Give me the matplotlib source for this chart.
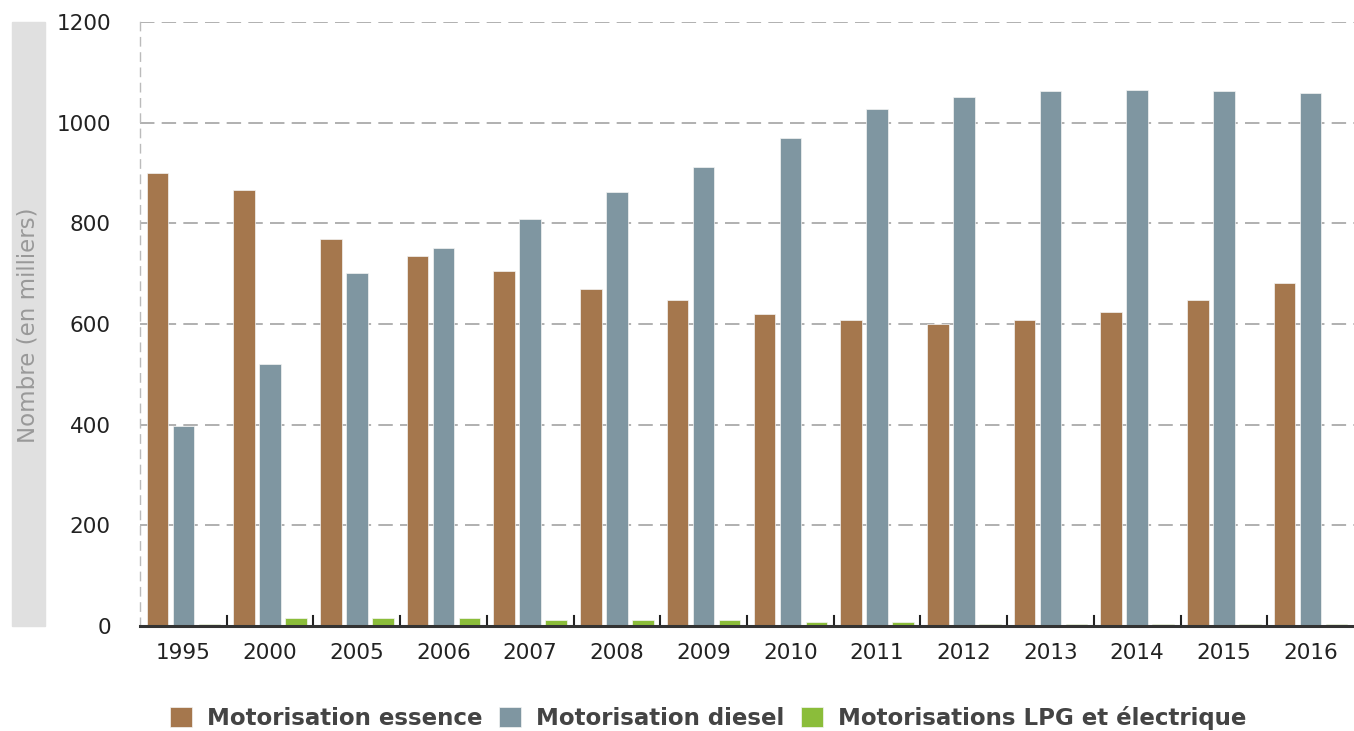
import numpy as np
import matplotlib.pyplot as plt
from matplotlib.patches import Rectangle

plt.rcParams['font.family'] = ['DejaVu Sans']

## Data

years = ['1995', '2000', '2005', '2006', '2007', '2008', '2009',
         '2010', '2011', '2012', '2013', '2014', '2015', '2016']
essence = [900, 866, 769, 735, 705, 670, 648, 620, 608, 600, 608, 624, 648, 682]
diesel = [398, 520, 701, 751, 809, 862, 912, 970, 1027, 1051, 1062, 1065, 1062, 1058]
lpg_elec = [4, 16, 16, 16, 12, 12, 12, 8, 8, 4, 4, 4, 4, 4]

labels = ['Motorisation essence', 'Motorisation diesel',
          'Motorisations LPG et électrique']
colors = ['#A5774D', '#7F96A1', '#8BBD3A']

## Figure

fig = plt.figure(figsize=(13.54, 7.31), dpi=100)
ax = fig.add_axes([140/1354, 105/731, 1 - 140/1354, 604/731])

x = np.arange(len(years))
step = 0.30
width = 0.25
series = [essence, diesel, lpg_elec]
handles = []
for i, vals in enumerate(series):
    h = ax.bar(x + (i - 1)*step, vals, width, color=colors[i],
               edgecolor='#f4f4f4', linewidth=0.5, label=labels[i], zorder=3)
    handles.append(h)

ax.set_xlim(-0.5, len(years) - 0.5)
ax.set_ylim(0, 1200)
ax.set_yticks(range(0, 1201, 200))
ax.yaxis.grid(True, linestyle=(0, (8, 4)), color='#aaaaaa', linewidth=1.3, zorder=0)

for s in ['top', 'right']:
    ax.spines[s].set_visible(False)
ax.spines['left'].set_linestyle((0, (6, 5)))
ax.spines['left'].set_color('#bbbbbb')
ax.spines['left'].set_linewidth(1.0)
ax.spines['bottom'].set_color('#333333')
ax.spines['bottom'].set_linewidth(2.2)
ax.spines['bottom'].set_zorder(5)

ax.tick_params(axis='y', length=0, pad=21, labelsize=15.5, labelcolor='#222222')
ax.set_xticks(x)
ax.set_xticklabels(years)
ax.tick_params(axis='x', length=0, pad=12, labelsize=15.5, labelcolor='#222222')

# group separators on the axis
for b in np.arange(0.5, len(years) - 0.5, 1.0):
    ax.plot([b, b], [0, 20], color='#222222', linewidth=1.5, zorder=4,
            clip_on=False)

## Y label box

fig.patches.append(Rectangle((12/1354, 105/731), 33/1354, 604/731,
                             transform=fig.transFigure, color='#e0e0e0',
                             zorder=0))
fig.text(28/1354, (731-325)/731, 'Nombre (en milliers)', rotation=90,
         ha='center', va='center', fontsize=16.5, color='#999999')

## Legend

fig.legend(handles=handles, labels=labels, loc='center',
           bbox_to_anchor=(0.523, 1 - 718/731), ncol=3, frameon=False,
           prop={'weight': 'bold', 'size': 16.5}, handlelength=0.95,
           handleheight=0.95, handletextpad=0.65, columnspacing=0.75,
           labelcolor='#444444')

fig.savefig('out.png', dpi=100)
